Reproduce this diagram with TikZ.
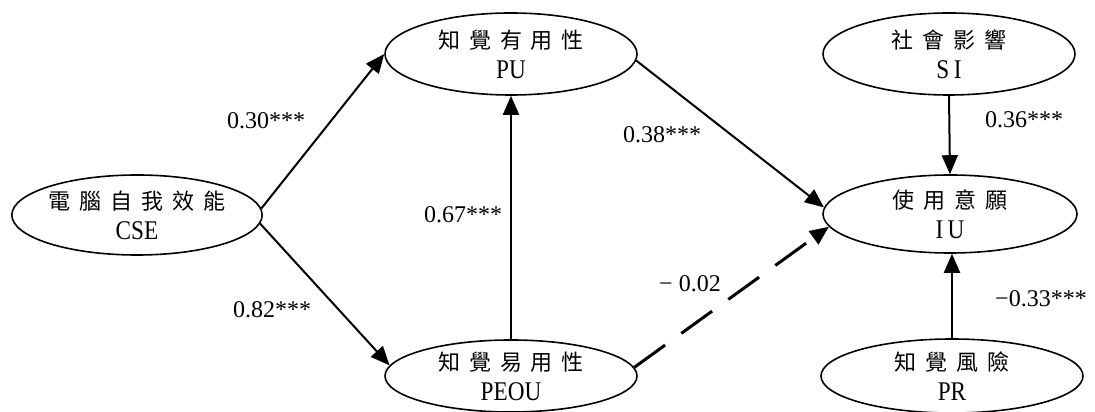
\documentclass[tikz,border=0pt]{standalone}
\usepackage{fontspec}
\setmainfont{Liberation Serif}
\newfontfamily\cjk{Noto Sans CJK TC}
\newfontfamily\latn[FakeStretch=0.86]{Liberation Serif}
\usetikzlibrary{arrows.meta,shapes.geometric}
\newcommand\zw{\hspace{9pt}}
\newcommand\abbr[1]{{\latn\fontsize{27}{30}\selectfont #1}}
\begin{document}
\begin{tikzpicture}[x=1pt,y=1pt,
  construct/.style={ellipse,draw,line width=1.6pt,inner sep=0pt,align=center,
    font=\fontsize{22}{30}\selectfont},
  path/.style={line width=2pt,-{Triangle[length=19pt,width=16pt]}},
  weak/.style={line width=3pt,dash pattern=on 38pt off 20pt,-{Triangle[length=19pt,width=16pt]}},
  coef/.style={anchor=base,inner sep=0pt,font=\fontsize{24}{24}\selectfont}]
\useasboundingbox[fill=white] (0,0) rectangle (1095,412);

% latent constructs
\node[construct,minimum width=250pt,minimum height=80pt] (cse) at (137,197)
  {{\cjk 電\zw 腦\zw 自\zw 我\zw 效\zw 能}\\\abbr{CSE}};
\node[construct,minimum width=252pt,minimum height=82pt] (pu) at (511,358)
  {{\cjk 知\zw 覺\zw 有\zw 用\zw 性}\\\abbr{PU}};
\node[construct,minimum width=252pt,minimum height=72pt] (peou) at (511,36)
  {{\cjk 知\zw 覺\zw 易\zw 用\zw 性}\\\abbr{PEOU}};
\node[construct,minimum width=252pt,minimum height=82pt] (si) at (949,358)
  {{\cjk 社\zw 會\zw 影\zw 響}\\\abbr{S\,I}};
\node[construct,minimum width=254pt,minimum height=78pt] (iu) at (950,198)
  {{\cjk 使\zw 用\zw 意\zw 願}\\\abbr{I\,U}};
\node[construct,minimum width=262pt,minimum height=74pt] (pr) at (952,36)
  {{\cjk 知\zw 覺\zw 風\zw 險}\\\abbr{PR}};

% structural paths
\draw[path] (cse.3) -- (pu.west);
\draw[path] (cse.-4) -- (peou.175);
\draw[path] (peou.north) -- (pu.south);
\draw[path] (pu.-3) -- (iu.177);
\draw[weak] (peou.4) -- (iu.186);
\draw[path] (si.south) -- (iu.north);
\draw[path] (pr.north) -- (pr.north |- iu.south);

% path coefficients
\node[coef] (c1) at (266,283) {0.30***};
\node[coef] (c2) at (272,94) {0.82***};
\node[coef] (c3) at (463,189) {0.67***};
\node[coef] (c4) at (662,269) {0.38***};
\node[coef] (c5) at (690,120) {− 0.02};
\node[coef] (c6) at (1024,284) {0.36***};
\node[coef] (c7) at (1041,105) {−0.33***};
\end{tikzpicture}
\end{document}
